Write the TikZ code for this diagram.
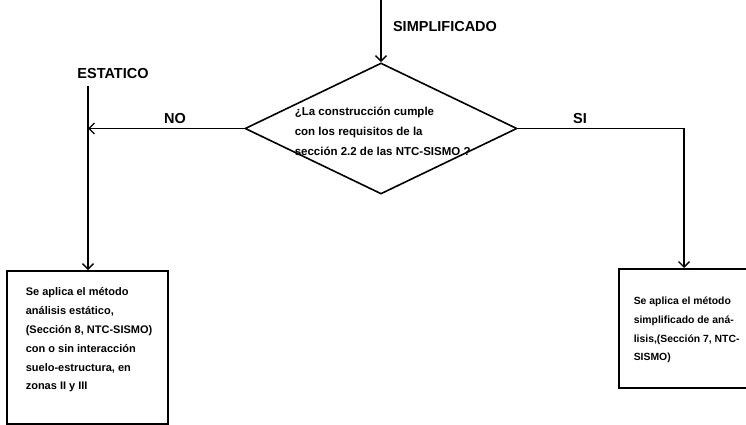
\documentclass[tikz,border=0pt]{standalone}
\usepackage{fontspec}
\setmainfont{Liberation Sans}
\usetikzlibrary{shapes.geometric,arrows.meta}
\begin{document}
\begin{tikzpicture}[x=1pt,y=-1pt, line width=1.6pt,
  flow/.style={-{Straight Barb[length=5.5pt,width=11pt,line width=1.4pt]}},
  lbl/.style={font=\fontsize{14.5}{16}\selectfont\bfseries, inner sep=0pt},
  txt/.style={font=\fontsize{10.4}{18.8}\selectfont\bfseries, align=left, inner sep=0pt},
  ltxtst/.style={font=\fontsize{11}{18.8}\selectfont\bfseries, align=left, inner sep=0pt},
  qtxt/.style={font=\fontsize{11.5}{20}\selectfont\bfseries, align=left, inner sep=0pt},
  boxx/.style={draw, rectangle, inner sep=0pt}]
\useasboundingbox (0,0) rectangle (746,425);

% decision
\node[diamond, draw, minimum width=272pt, minimum height=131pt, inner sep=0pt] (dec) at (381,128.5) {};
\node[qtxt, anchor=west] (q) at (294,131) {¿La construcción cumple\\con los requisitos de la\\sección 2.2 de las NTC-SISMO ?};

% boxes
\node[boxx, minimum width=161pt, minimum height=153pt, anchor=north west] (lbox) at (6,270) {};
\node[ltxtst, anchor=west] (ltxt) at (25,340) {Se aplica el método\\análisis estático,\\(Sección 8, NTC-SISMO)\\con o sin interacción\\suelo-estructura, en\\zonas II y III};

\node[boxx, minimum width=150pt, minimum height=119pt, anchor=north west] (rbox) at (618,268) {};
\node[txt, anchor=west] (rtxt) at (633,330) {Se aplica el método\\simplificado de aná-\\lisis,(Sección 7, NTC-\\SISMO)};

% labels
\node[lbl] (simp) at (445,27) {SIMPLIFICADO};
\node[lbl] (est) at (113,74) {ESTATICO};
\node[lbl] (no) at (175,119) {NO};
\node[lbl] (si) at (580,119) {SI};

% connectors
\coordinate (top) at (381,0);
\coordinate (lj) at (88,127);
\coordinate (lv) at (88,86);
\coordinate (rv) at (684,127);
\draw[flow] (top) -- (dec.north);
\draw[flow] (dec.west) -- (dec.west -| lj);
\draw[flow] (lv) -- (lv |- lbox.north);
\draw[flow] (dec.east) -- (dec.east -| rv) -- (rv |- rbox.north);
\end{tikzpicture}
\end{document}
